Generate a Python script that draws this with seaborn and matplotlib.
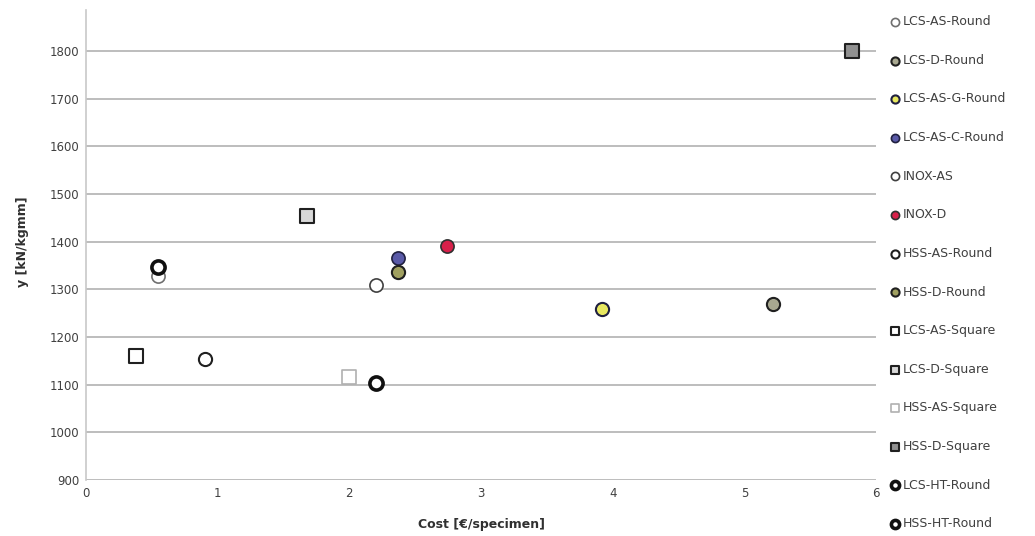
import matplotlib
matplotlib.use("Agg")
import matplotlib.pyplot as plt
import seaborn as sns
import pandas as pd

series = ["LCS-AS-Round", "LCS-D-Round", "LCS-AS-G-Round", "LCS-AS-C-Round",
          "INOX-AS", "INOX-D", "HSS-AS-Round", "HSS-D-Round",
          "LCS-AS-Square", "LCS-D-Square", "HSS-AS-Square", "HSS-D-Square",
          "LCS-HT-Round", "HSS-HT-Round"]
cost = [0.55, 5.22, 3.92, 2.37, 2.20, 2.74, 0.90, 2.37, 0.38, 1.68, 2.00, 5.82, 0.55, 2.20]
yval = [1328, 1270, 1258, 1365, 1310, 1392, 1153, 1337, 1160, 1453, 1117, 1800, 1348, 1104]

markers = ["o", "o", "o", "o", "o", "o", "o", "o", "s", "s", "s", "s", "o", "o"]
faces = ["white", "#a8a890", "#e8e860", "#5a5aa8", "white", "#d8204a", "white", "#a0a060",
         "white", "#d8d8d8", "white", "#909090", "white", "white"]
edges = ["#707070", "#202020", "#202040", "#202040", "#404040", "#303030", "#202020", "#202020",
         "#202020", "#202020", "#b0b0b0", "#202020", "#101010", "#101010"]
lws = [1.2, 1.5, 1.5, 1.2, 1.2, 1.2, 1.5, 1.5, 1.5, 1.5, 1.2, 1.5, 2.6, 2.6]
sizes = [90, 90, 90, 90, 90, 90, 90, 90, 100, 100, 100, 100, 90, 90]

df = pd.DataFrame({"series": series, "cost": cost, "y": yval})

sns.set_style("white")
plt.rcParams["font.family"] = ["DejaVu Sans"]
fig = plt.figure(figsize=(10.35, 5.36), dpi=100)
ax = fig.add_axes([0.0831, 0.1045, 0.7633, 0.8765])

for i, name in enumerate(series):
    sub = df[df["series"] == name]
    sns.scatterplot(data=sub, x="cost", y="y", ax=ax, marker=markers[i], s=sizes[i],
                    color=faces[i], edgecolor=edges[i], linewidth=lws[i], label=name,
                    zorder=3)

ax.set_xlim(0, 6)
ax.set_ylim(900, 1886)
ax.set_xticks([0, 1, 2, 3, 4, 5, 6])
ax.set_yticks([900, 1000, 1100, 1200, 1300, 1400, 1500, 1600, 1700, 1800])
ax.yaxis.grid(True, color="#b8b8b8", linewidth=1.3)
ax.xaxis.grid(False)
for s in ["top", "right", "bottom"]:
    ax.spines[s].set_visible(False)
ax.spines["left"].set_color("#c8c8c8")
ax.spines["left"].set_linewidth(1.2)
ax.tick_params(axis="both", labelsize=8.5, colors="#404040", length=0, pad=5)
ax.set_xlabel("Cost [€/specimen]", fontsize=9, fontweight="bold", color="#303030", labelpad=13)
ax.set_ylabel("")
fig.text(0.022, 0.55, "y [kN/kgmm]", rotation=90, fontsize=9, fontweight="bold",
         color="#303030", ha="center", va="center")

leg = ax.legend(loc="upper left", bbox_to_anchor=(1.01, 1.0), frameon=False,
                fontsize=9, labelspacing=2.05, handletextpad=0.1, borderaxespad=0,
                markerscale=0.62, handlelength=1.0)
for t in leg.get_texts():
    t.set_color("#404040")

fig.savefig("out.png", dpi=100)
